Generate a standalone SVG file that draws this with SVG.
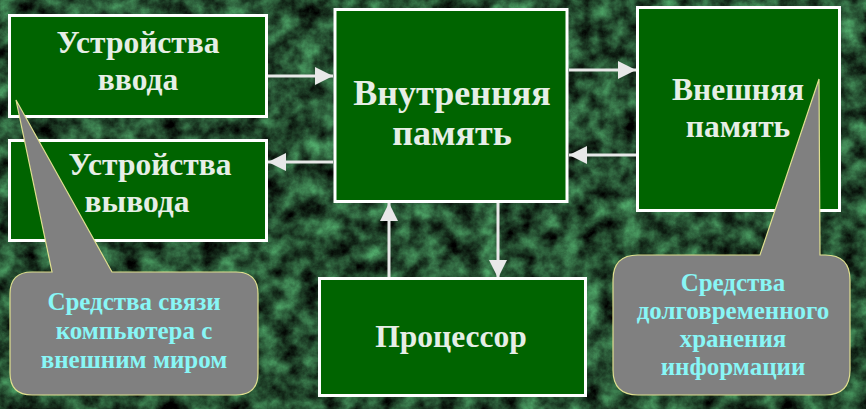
<svg xmlns="http://www.w3.org/2000/svg" width="866" height="409" viewBox="0 0 866 409">
<defs>
<filter id="marble" x="0" y="0" width="866" height="409" filterUnits="userSpaceOnUse" color-interpolation-filters="sRGB">
<feTurbulence type="fractalNoise" baseFrequency="0.05" numOctaves="5" seed="11" result="n"/>
<feColorMatrix in="n" type="matrix" values="0.45 0 0 0 -0.08  0.95 0 0 0 -0.17  0.6 0 0 0 -0.11  0 0 0 0 1"/>
</filter>
<marker id="ah" markerUnits="userSpaceOnUse" markerWidth="18" markerHeight="18" refX="18" refY="9" orient="auto">
<path d="M0,0 L18,9 L0,18 Z" fill="#e8e8e8"/>
</marker>
<style>
.box{fill:#006400;stroke:#ffffff;stroke-width:3}
.t{font-family:"Liberation Serif","Times New Roman",serif;font-weight:bold;fill:#e6eee6;text-anchor:middle}
.big{font-size:31.5px}
.huge{font-size:36px}
.call{fill:#808080;stroke:#e0e090;stroke-width:1.2}
.ct{font-family:"Liberation Serif","Times New Roman",serif;font-weight:bold;fill:#88f6f6;text-anchor:middle;font-size:25px}
.c{stroke:#e8e8e8;stroke-width:3;fill:none;marker-end:url(#ah)}
</style>
</defs>
<rect x="0" y="0" width="866" height="409" fill="#245c36"/>
<rect x="0" y="0" width="866" height="409" filter="url(#marble)"/>
<g id="connectors">
<line class="c" x1="268" y1="76" x2="333" y2="76"/>
<line class="c" x1="333" y1="162" x2="268" y2="162"/>
<line class="c" x1="569" y1="70" x2="636" y2="70"/>
<line class="c" x1="636" y1="155" x2="569" y2="155"/>
<line class="c" x1="389" y1="278" x2="389" y2="203"/>
<line class="c" x1="498" y1="203" x2="498" y2="278"/>
</g>
<g id="input">
<rect class="box" x="9.5" y="15.5" width="257" height="101"/>
<text class="t big" x="138" y="53">Устройства</text>
<text class="t big" x="138" y="90">ввода</text>
</g>
<g id="output">
<rect class="box" x="9.5" y="140.5" width="257" height="100"/>
<text class="t big" x="150" y="175">Устройства</text>
<text class="t big" x="137" y="212">вывода</text>
</g>
<g id="internal">
<rect class="box" x="335" y="9.5" width="232" height="192"/>
<text class="t huge" x="452" y="105">Внутренняя</text>
<text class="t huge" x="452" y="145">память</text>
</g>
<g id="external">
<rect class="box" x="637.5" y="7.5" width="202" height="203"/>
<text class="t big" x="738" y="100">Внешняя</text>
<text class="t big" x="738" y="137">память</text>
</g>
<g id="cpu">
<rect class="box" x="319.5" y="278.5" width="266" height="117"/>
<text class="t big" x="451" y="347">Процессор</text>
</g>
<g id="callout-left">
<path class="call" d="M32,272 L52,272 L16,100 L112,272 L236,272 Q258,272 258,294 L258,373 Q258,395 236,395 L32,395 Q10,395 10,373 L10,294 Q10,272 32,272 Z"/>
<text class="ct" x="134" y="310">Средства связи</text>
<text class="ct" x="134" y="339">компьютера с</text>
<text class="ct" x="134" y="368">внешним миром</text>
</g>
<g id="callout-right">
<path class="call" d="M638,255 L760,255 L819,79 L820,255 L825,255 Q850,255 850,280 L850,370 Q850,395 825,395 L638,395 Q613,395 613,370 L613,280 Q613,255 638,255 Z"/>
<text class="ct" x="733" y="291">Средства</text>
<text class="ct" x="733" y="319">долговременного</text>
<text class="ct" x="733" y="347">хранения</text>
<text class="ct" x="733" y="375">информации</text>
</g>
</svg>
